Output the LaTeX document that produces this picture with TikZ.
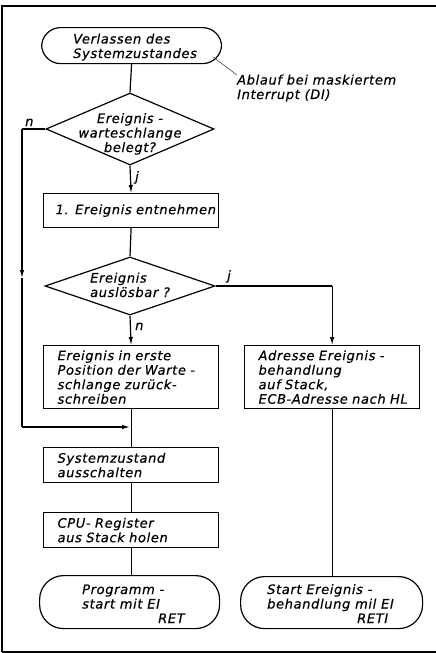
\documentclass[tikz,border=0pt]{standalone}
\usepackage{fontspec}
\setmainfont{DejaVu Sans}[LetterSpace=5,FakeBold=0.5]
\usetikzlibrary{shapes.geometric,arrows.meta}
\begin{document}
\begin{tikzpicture}[x=1pt,y=-1pt,
  every node/.style={font=\itshape\fontsize{13}{14.5}\selectfont, text=black},
  flow/.style={line width=1.2pt, black},
  box/.style={draw, line width=1.2pt, minimum width=175pt, text width=147pt, inner xsep=14pt, inner ysep=0pt, align=left, anchor=north west},
  term/.style={draw, line width=1.2pt, rounded corners=#1, anchor=north west, inner sep=0pt},
  dec/.style={draw, diamond, line width=1.2pt, inner sep=0pt},
  lbl/.style={inner sep=0pt, anchor=base west, align=left},
  clbl/.style={inner sep=0pt, anchor=base, align=center},
  arr/.style={flow, -{Latex[length=8pt,width=4.5pt]}},
]
\useasboundingbox (0,0) rectangle (436,653);
% frame
\coordinate (f1) at (436,6);
\coordinate (f2) at (2,6);
\coordinate (f3) at (2,652);
\coordinate (f4) at (436,652);
\draw[line width=1.4pt] (f1) -- (f2) -- (f3);
\draw[line width=2pt] (f3) -- (f4);

% start terminal
\node[term=19pt, minimum width=180pt, minimum height=36pt] (start) at (41,27) {};
\node[lbl] (tstart) at (73,58) {Verlassen des\\Systemzustandes};
% annotation
\node[lbl] (anno) at (237,99) {Ablauf bei maskiertem\\Interrupt (DI)};
\coordinate (annoA) at (213,57);
\coordinate (annoB) at (237,75);
\draw[line width=0.6pt, black!70] (annoA) -- (annoB);

% decision 1
\node[dec, minimum width=168pt, minimum height=72pt] (d1) at (130,129) {};
\node[clbl] (td1) at (130,152) {Ereignis -\\warteschlange\\belegt?};

% box 1
\node[box, minimum height=34pt, inner xsep=12pt, text width=151pt] (b1) at (43,193) {\mbox{1. Ereignis entnehmen}};

% decision 2
\node[dec, minimum width=170pt, minimum height=58pt] (d2) at (130,286) {};
\node[lbl] (td2) at (90,297) {Ereignis\\auslösbar ?};

% boxes
\node[box, minimum height=63pt] (bl) at (43,345) {Ereignis in erste\\Position der Warte -\\schlange zurück-\\schreiben};
\node[box, minimum height=63pt] (br) at (244,345) {Adresse Ereignis -\\behandlung\\auf Stack,\\\mbox{ECB-Adresse nach HL}};
\node[box, minimum height=35pt] (bs) at (43,447) {Systemzustand\\ausschalten};
\node[box, minimum height=35pt] (bc) at (43,512) {CPU- Register\\aus Stack holen};

% end terminals
\node[term=24pt, minimum width=180pt, minimum height=53pt] (el) at (39,575) {};
\node[lbl] (tel) at (82,623) {Programm -\\start mit EI\\\hspace*{76pt}RET};
\node[term=24pt, minimum width=182pt, minimum height=52pt] (er) at (240,576) {};
\node[lbl] (ter) at (267,623) {Start Ereignis -\\behandlung mil EI\\\hspace*{90pt}RETI};

% connectors
\draw[flow] (start.south) -- (d1.north);
\draw[arr] (d1.south) -- (b1.north);
\node[lbl] (lj1) at (135,181) {j};
\draw[flow] (b1.south) -- (d2.north);
\draw[arr] (d2.south) -- (bl.north);
\node[lbl] (ln2) at (135,330) {n};
\coordinate (rc) at (d2.east -| br.north);
\draw[flow] (d2.east) -- (rc);
\draw[arr] (rc) -- (br.north);
\node[lbl] (lj2) at (227,280) {j};

\coordinate (nl1) at (22,129);
\coordinate (nl2) at (22,278);
\coordinate (nl3) at (22,427);
\coordinate (merge) at (130,427);
\draw[flow] (d1.west) -- (nl1);
\draw[arr] (nl1) -- (nl2);
\draw[flow] (nl2) -- (nl3);
\draw[arr] (nl3) -- (merge);
\node[lbl] (ln1) at (25,126) {n};

\draw[flow] (bl.south) -- (bs.north);
\draw[flow] (bs.south) -- (bc.north);
\draw[flow] (bc.south) -- (el.north -| bc.south);
\draw[flow] (br.south) -- (er.north -| br.south);
\end{tikzpicture}
\end{document}
